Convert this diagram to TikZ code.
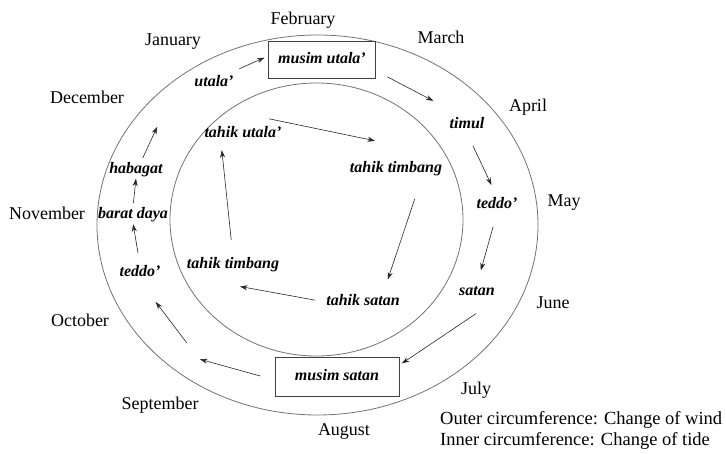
\documentclass[tikz,border=0pt]{standalone}
\usepackage{fontspec}
\setmainfont{Liberation Serif}
\usetikzlibrary{arrows.meta}
\tikzset{
	month/.style={font=\fontsize{18}{20}\selectfont},
	legend/.style={font=\fontsize{18.5}{21}\selectfont, anchor=west, inner sep=0pt},
	wind/.style={font=\fontsize{16}{18}\selectfont\bfseries\itshape, inner sep=1pt, text height=11pt, text depth=3pt},
	season/.style={wind, draw=black!75, line width=0.7pt},
	ring/.style={draw=black!55, line width=0.8pt},
	flow/.style={->, line width=0.6pt, draw=black!85}
}
\begin{document}
\begin{tikzpicture}[x=1pt, y=-1pt, >={Stealth[length=7.5pt,width=5pt]}]
			\useasboundingbox (0,0) rectangle (726,454);
			\draw[ring] (317.5,225) ellipse [x radius=220.5pt, y radius=190pt];
			\draw[ring] (316.5,219.5) ellipse [x radius=146.5pt, y radius=136.5pt];
			\node[month] (jan) at (173,42) {January};
			\node[month] (feb) at (303,20) {February};
			\node[month] (mar) at (441,37) {March};
			\node[month] (apr) at (528,107) {April};
			\node[month] (may) at (564,203) {May};
			\node[month] (jun) at (553,303) {June};
			\node[month] (jul) at (476,390) {July};
			\node[month] (aug) at (344,432) {August};
			\node[month] (sep) at (160,405) {September};
			\node[month] (oct) at (80,320) {October};
			\node[month] (nov) at (47,213) {November};
			\node[month] (dec) at (87,97) {December};
			\node[legend] (outer) at (440,420) {Outer circumference: Change of wind};
			\node[legend] (inner) at (440,441) {Inner circumference: Change of tide};
			\node[wind] (utala) at (214,83) {utala'};
			\node[season, minimum width=107pt, minimum height=37pt] (mutala) at (322,60) {musim utala'};
			\node[wind] (timul) at (467,125) {timul};
			\node[wind] (teddoE) at (497,205) {teddo'};
			\node[wind] (satan) at (477,292) {satan};
			\node[season, minimum width=124pt, minimum height=39pt] (msatan) at (337,377) {musim satan};
			\coordinate (sepw) at (199,359);
			\node[wind] (teddoW) at (140,273) {teddo'};
			\node[wind] (barat) at (133,215) {barat daya};
			\node[wind] (habagat) at (136,170) {habagat};
			\coordinate (decw) at (158,125);
			\node[wind] (tutala) at (243,134) {tahik utala'};
			\node[wind] (ttimbangE) at (396,169) {tahik timbang};
			\node[wind] (tsatan) at (363,302) {tahik satan};
			\node[wind] (ttimbangW) at (233,265) {tahik timbang};
			\draw[flow, shorten <=5pt, shorten >=4pt] ([yshift=4pt]utala.north east) -- ([yshift=4pt]mutala.west);
			\draw[flow, shorten <=13pt, shorten >=17pt] ([yshift=8pt]mutala.south east) -- ([yshift=8pt]timul.north west);
			\draw[flow, shorten <=14pt, shorten >=13pt] (timul.south) -- (teddoE.north);
			\draw[flow, shorten <=14pt, shorten >=14pt] (teddoE.south) -- (satan.north);
			\draw[flow, shorten <=24pt, shorten >=3pt] (satan.south east) -- ([yshift=-8pt]msatan.north east);
			\draw[flow, shorten <=15pt, shorten >=1pt] ([yshift=-3pt]msatan.west) -- (sepw);
			\draw[flow, shorten <=20pt, shorten >=26pt] (sepw) -- (teddoW.south);
			\draw[flow, shorten <=12pt, shorten >=1pt] (teddoW.north) -- (barat.south);
			\draw[flow, shorten <=4pt, shorten >=0.5pt] (barat.north) -- (habagat.south);
			\draw[flow, shorten <=4pt, shorten >=2pt] ([xshift=5pt]habagat.north) -- (decw);
			\draw[flow] ([xshift=26pt,yshift=7pt]tutala.north) -- ([xshift=-21pt,yshift=20pt]ttimbangE.north);
			\draw[flow, shorten <=23pt, shorten >=15pt] ([xshift=26pt]ttimbangE.south) -- ([xshift=20pt]tsatan.north);
			\draw[flow, shorten <=10pt, shorten >=7pt] (tsatan.west) -- ([yshift=-12pt]ttimbangW.south);
			\draw[flow, shorten <=17pt, shorten >=8pt] (ttimbangW.north) -- ([xshift=-22pt]tutala.south);
		\end{tikzpicture}
\end{document}
